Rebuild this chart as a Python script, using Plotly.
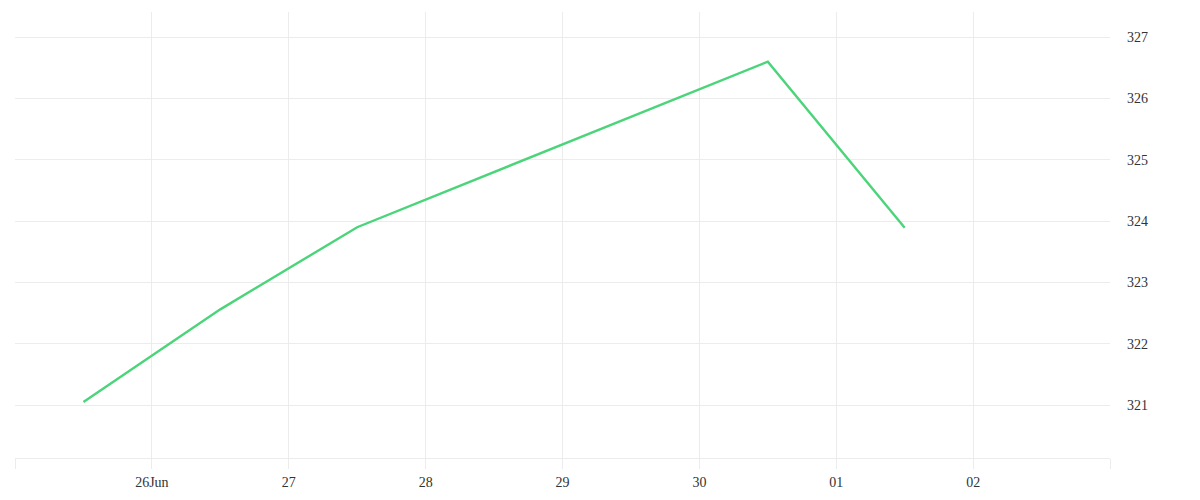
import plotly.graph_objects as go

dates = ["2023-06-25 12:00", "2023-06-26 12:00", "2023-06-27 12:00", "2023-06-28 12:00",
         "2023-06-29 12:00", "2023-06-30 12:00", "2023-07-01 12:00"]
values = [321.05, 322.56, 323.9, 324.8, 325.7, 326.6, 323.89]

tick_dates = ["2023-06-25", "2023-06-26", "2023-06-27", "2023-06-28", "2023-06-29",
              "2023-06-30", "2023-07-01", "2023-07-02", "2023-07-03"]
tick_labels = ["", "26Jun", "27", "28", "29", "30", "01", "02", ""]
y_ticks = [321, 322, 323, 324, 325, 326, 327]

fig = go.Figure()
fig.add_trace(go.Scatter(x=dates, y=values, mode="lines",
                         line=dict(color="#4cd47b", width=2.4), hoverinfo="x+y"))

grid = "#ececec"
fig.update_layout(
    width=1184, height=484,
    margin=dict(l=7, r=82, t=4, b=34),
    paper_bgcolor="white", plot_bgcolor="white",
    showlegend=False,
    font=dict(family="Liberation Serif, DejaVu Serif, serif", size=14, color="#333"),
    xaxis=dict(type="date", range=["2023-06-25", "2023-07-03"],
               tickvals=tick_dates, ticktext=tick_labels,
               showgrid=True, gridcolor=grid, gridwidth=1,
               ticks="outside", ticklen=10, tickcolor=grid, tickwidth=1,
               showline=True, linecolor=grid, linewidth=1,
               ticklabelstandoff=1, automargin=False,
               zeroline=False, tickfont=dict(size=14, color="#333")),
    yaxis=dict(side="right", range=[320.136, 327.41], tickvals=y_ticks,
               showgrid=True, gridcolor=grid, gridwidth=1,
               ticks="", zeroline=False, showline=False,
               ticklabelstandoff=16, automargin=False,
               tickfont=dict(size=14, color="#333")),
)

fig.write_html("out.html")
